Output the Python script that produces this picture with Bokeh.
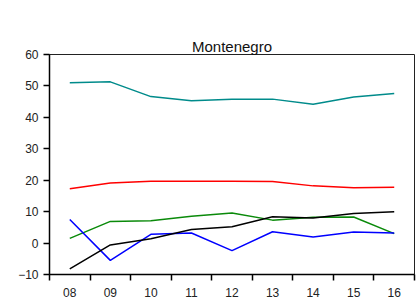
from bokeh.plotting import figure
from bokeh.models import FixedTicker, Range1d, LinearAxis
from bokeh.embed import file_html
from bokeh.resources import INLINE

title_text = "Montenegro"
years = ["08", "09", "10", "11", "12", "13", "14", "15", "16"]
teal_vals = [51.0, 51.3, 46.6, 45.3, 45.8, 45.8, 44.2, 46.5, 47.6]
red_vals = [17.3, 19.1, 19.7, 19.7, 19.7, 19.6, 18.2, 17.6, 17.8]
green_vals = [1.5, 6.9, 7.1, 8.5, 9.6, 7.3, 8.2, 8.3, 3.0]
blue_vals = [7.5, -5.5, 2.8, 3.2, -2.4, 3.6, 1.9, 3.5, 3.2]
black_vals = [-8.2, -0.6, 1.4, 4.3, 5.2, 8.4, 8.0, 9.4, 10.0]
y_ticks = [-10, 0, 10, 20, 30, 40, 50, 60]

xs = [i + 0.5 for i in range(len(years))]

p = figure(width=416, height=302, output_backend="svg", toolbar_location=None,
           x_range=Range1d(0, len(years)), y_range=Range1d(y_ticks[0], y_ticks[-1]),
           min_border_left=49, min_border_right=2, min_border_top=54, min_border_bottom=28,
           title=title_text)

series = [(teal_vals, "#008B8B"), (red_vals, "#FF0000"), (green_vals, "#0A8A0A"),
          (blue_vals, "#0000FF"), (black_vals, "#000000")]
for vals, col in series:
    p.line(xs, vals, line_color=col, line_width=1.5)

xa = p.below[0]
ya = p.left[0]

# invisible spacer between the frame and the title (no ticks, white tick colour)
spacer = LinearAxis(ticker=FixedTicker(ticks=[], minor_ticks=[]), axis_line_color=None,
                    major_tick_line_color="white", minor_tick_line_color=None,
                    major_tick_out=25, major_tick_in=0, minor_tick_out=0,
                    minor_tick_in=0, major_label_standoff=0)
p.add_layout(spacer, "above")

p.title.align = "center"
p.title.text_font = "Liberation Sans"
p.title.text_font_size = "15px"
p.title.text_font_style = "normal"
p.title.text_color = "#111111"
p.title.standoff = 0

p.xgrid.visible = False
p.ygrid.visible = False
p.outline_line_color = "#222222"
p.outline_line_width = 1

xa.ticker = FixedTicker(ticks=xs, minor_ticks=list(range(len(years) + 1)))
xa.major_label_overrides = {x: y for x, y in zip(xs, years)}
xa.major_tick_line_color = None
xa.major_tick_out = 6
xa.major_tick_in = 0
xa.minor_tick_out = 6
xa.minor_tick_in = 0
xa.minor_tick_line_color = "black"
xa.minor_tick_line_width = 1.5
xa.axis_line_color = "black"
xa.axis_line_width = 1.5
xa.major_label_standoff = 7
xa.major_label_text_font = "Liberation Sans"
xa.major_label_text_font_size = "12px"
xa.major_label_text_color = "#222222"

ya.ticker = FixedTicker(ticks=y_ticks)
ya.major_tick_out = 6
ya.major_tick_in = 0
ya.minor_tick_line_color = None
ya.major_tick_line_color = "black"
ya.major_tick_line_width = 1.5
ya.axis_line_color = "black"
ya.axis_line_width = 1.5
ya.major_label_standoff = 5
ya.major_label_text_font = "Liberation Sans"
ya.major_label_text_font_size = "12px"
ya.major_label_text_color = "#222222"

open("out.html", "w").write(file_html(p, INLINE))
